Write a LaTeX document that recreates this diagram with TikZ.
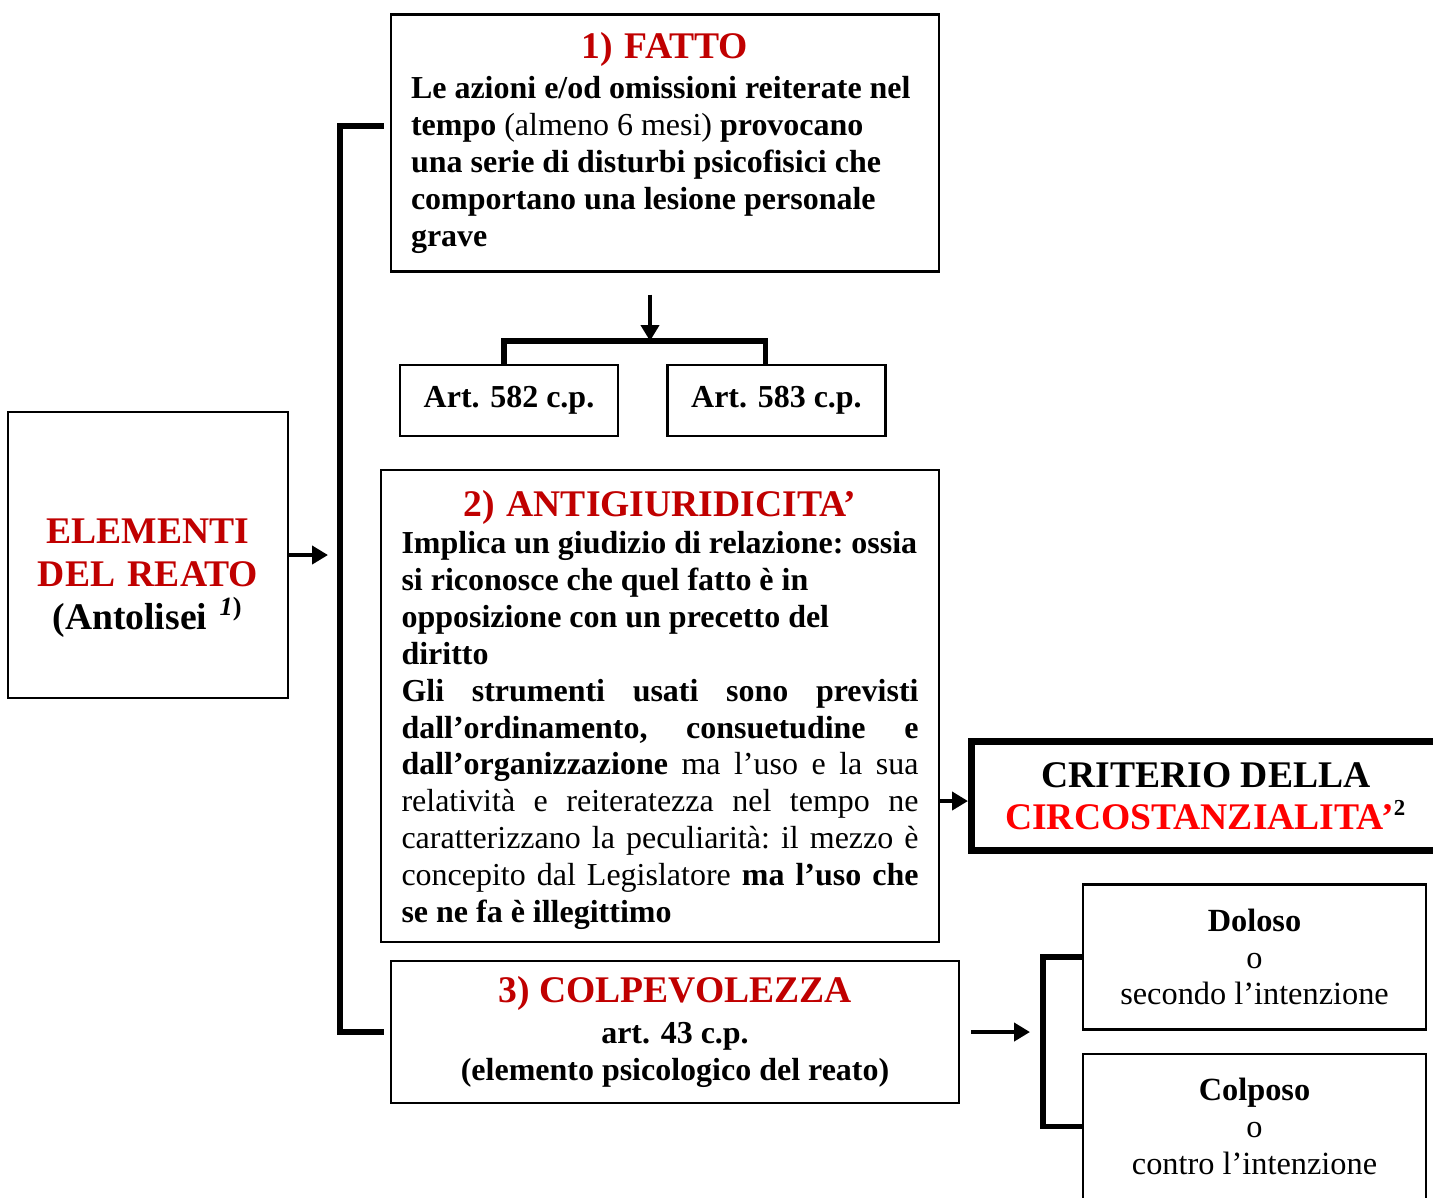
\documentclass[tikz,border=0pt]{standalone}
\usepackage{fontspec}
\setmainfont{Liberation Serif}
\usepackage{xcolor}
\usetikzlibrary{arrows.meta,calc,positioning}
\definecolor{titred}{HTML}{C00000}
\definecolor{circred}{HTML}{FF0000}
\newcommand{\bodysize}{\fontsize{9.1}{10.5}\selectfont}
\newcommand{\bodytext}{\bodysize\bfseries\frenchspacing\spaceskip=0.25em plus 0.6em minus 0.05em\relax}
\newcommand{\titsize}{\fontsize{10.7}{12.2}\selectfont\bfseries}
% one line of a box: ragged or justified
\newcommand{\rline}[1]{\makebox[\linewidth][l]{#1}\par}
\newcommand{\jline}[1]{\makebox[\linewidth][s]{#1}\par}
\setlength{\parindent}{0pt}

\begin{document}
\begin{tikzpicture}[
    box/.style = {draw, line width=0.7pt, inner ysep=0pt},
    arr/.style = {line width=1.2pt, -{Triangle[length=0.16cm, width=0.18cm]}},
    brk/.style = {line width=1.5pt}]
  \useasboundingbox (0,0) rectangle (14.33,-11.97);

  \node[box, text width=2.8cm, inner xsep=0pt, text height=20pt, minimum height=2.86cm, align=center, font=\titsize] (elem) at (1.48,-5.55)
    {\textcolor{titred}{ELEMENTI}\\ \textcolor{titred}{DEL REATO}\\ (Antolisei \textsuperscript{\textit{1})}};

  \node[box, text width=5.08cm, inner xsep=0.2cm, minimum height=2.57cm] (fatto) at (6.65,-1.43)
    {{\centering\titsize\color{titred}1) FATTO\par}\vspace{1pt}
     \bodytext
     \rline{Le azioni e/od omissioni reiterate nel}
     \rline{tempo {\mdseries(almeno 6 mesi)} provocano}
     \rline{una serie di disturbi psicofisici che}
     \rline{comportano una lesione personale}
     \rline{grave}};

  \node[box, minimum width=2.18cm, minimum height=0.71cm, font=\bodysize\bfseries] (a582) at (5.09,-4.005) {Art. 582 c.p.};
  \node[box, minimum width=2.18cm, minimum height=0.71cm, font=\bodysize\bfseries, right=0.47cm of a582] (a583) {Art. 583 c.p.};

  \node[box, text width=5.17cm, inner xsep=0.205cm, minimum height=4.72cm] (anti) at (6.60,-7.06)
    {{\centering\titsize\color{titred}2) ANTIGIURIDICITA’\par}
     \bodytext
     \rline{Implica un giudizio di relazione: ossia}
     \rline{si riconosce che quel fatto è in}
     \rline{opposizione con un precetto del}
     \rline{diritto}
     \jline{Gli strumenti usati sono previsti}
     \jline{dall’ordinamento, consuetudine e}
     \jline{dall’organizzazione {\mdseries ma l’uso e la sua}}
     \jline{\mdseries relatività e reiteratezza nel tempo ne}
     \jline{\mdseries caratterizzano la peculiarità: il mezzo è}
     \jline{{\mdseries concepito dal Legislatore} ma l’uso che}
     \rline{se ne fa è illegittimo}
     \kern-2.3pt};

  \node[draw, line width=2pt, inner ysep=0pt, minimum width=4.69cm, minimum height=1.09cm, align=center,
        font=\fontsize{10.7}{12}\selectfont\bfseries] (crit) at (12.06,-7.96)
    {CRITERIO DELLA\\ \textcolor{circred}{CIRCOSTANZIALITA’}\textsuperscript{\fontsize{6.5}{6.5}\selectfont 2}};

  \node[box, minimum width=5.68cm, minimum height=1.42cm, align=center, font=\bodysize\bfseries] (colp) at (6.75,-10.32)
    {{\titsize\color{titred}3) COLPEVOLEZZA}\\[1pt] art. 43 c.p.\\ (elemento psicologico del reato)};

  \node[box, minimum width=3.43cm, minimum height=1.45cm, align=center, font=\fontsize{9.2}{10.5}\selectfont] (dol) at (12.545,-9.57)
    {\textbf{Doloso}\\ o\\ secondo l’intenzione};
  \node[box, minimum width=3.43cm, minimum height=1.45cm, align=center, font=\fontsize{9.2}{10.5}\selectfont, below=0.22cm of dol] (colpo)
    {\textbf{Colposo}\\ o\\ contro l’intenzione};

  \coordinate (spine) at (3.40,-5.55);
  \coordinate (split) at (6.50,-3.41);
  \coordinate (spine2) at (10.43,-10.43);

  \draw[arr] (elem.east) -- ([xshift=-0.12cm]spine);
  \draw[brk] ($(fatto.west)+(-0.06,0.17)$) -| (spine) |- ([xshift=-0.06cm]colp.west);

  \draw[arr] ($(fatto.south -| split)+(0,-0.22)$) -- (split);
  \draw[brk] ([xshift=-0.05cm]a582.north) |- (split) -| ([xshift=-0.11cm]a583.north);

  \draw[arr] ($(anti.east |- crit.west)+(0,-0.05)$) -- ($(crit.west)+(0,-0.05)$);

  \draw[arr] ($(colp.east)+(0.11,0)$) -- ($(colp.east -| spine2)+(-0.13,0)$);
  \draw[brk] (dol.west) -| (spine2) |- (colpo.west);
\end{tikzpicture}
\end{document}
